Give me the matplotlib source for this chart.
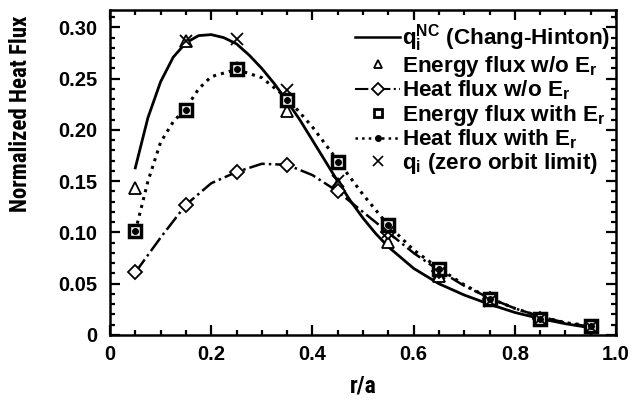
import numpy as np
import matplotlib
matplotlib.use("Agg")
import matplotlib.pyplot as plt
from matplotlib.ticker import MultipleLocator, FixedLocator, FixedFormatter

plt.rcParams['font.family'] = ['Liberation Sans', 'DejaVu Sans']
plt.rcParams['font.weight'] = 'bold'
plt.rcParams['mathtext.fontset'] = 'custom'
plt.rcParams['mathtext.rm'] = 'Liberation Sans:bold'
plt.rcParams['mathtext.it'] = 'Liberation Sans:bold'
plt.rcParams['mathtext.bf'] = 'Liberation Sans:bold'

# ---------- data ----------
r_pts = [0.05, 0.15, 0.25, 0.35, 0.45, 0.55, 0.65, 0.75, 0.85, 0.95]
energy_wo_er = [0.143, 0.287, 0.260, 0.218, 0.147, 0.091, 0.058, 0.036, 0.016, 0.008]
heat_wo_er = [0.061, 0.127, 0.159, 0.166, 0.140, 0.100, 0.062, 0.035, 0.016, 0.008]
energy_with_er = [0.101, 0.219, 0.259, 0.229, 0.169, 0.107, 0.064, 0.035, 0.016, 0.009]
heat_with_er = [0.101, 0.219, 0.259, 0.229, 0.169, 0.107, 0.064, 0.035, 0.016, 0.009]

r_zero = [0.15, 0.25, 0.35, 0.45, 0.55, 0.65, 0.75, 0.85, 0.95]
q_zero_orbit = [0.287, 0.289, 0.239, 0.150, 0.100, 0.060, 0.033, 0.016, 0.008]

# Chang-Hinton curve
r_ch = [0.05, 0.075, 0.10, 0.125, 0.15, 0.175, 0.20, 0.225, 0.25, 0.275, 0.30,
        0.325, 0.35, 0.375, 0.40, 0.425, 0.45, 0.475, 0.50, 0.525, 0.55, 0.60,
        0.65, 0.70, 0.75, 0.80, 0.85, 0.90, 0.95]
q_ch = [0.163, 0.212, 0.247, 0.271, 0.285, 0.292, 0.293, 0.290, 0.284, 0.273, 0.260,
        0.245, 0.228, 0.210, 0.190, 0.170, 0.150, 0.131, 0.114, 0.099, 0.086, 0.065,
        0.050, 0.039, 0.030, 0.022, 0.016, 0.011, 0.007]

# heat flux with E_r curve (dotted)
r_hw = [0.05, 0.075, 0.10, 0.125, 0.15, 0.175, 0.20, 0.25, 0.30, 0.35, 0.40, 0.45,
        0.50, 0.55, 0.60, 0.65, 0.70, 0.75, 0.80, 0.85, 0.90, 0.95]
q_hw = [0.101, 0.150, 0.188, 0.208, 0.221, 0.240, 0.252, 0.259, 0.251, 0.231, 0.203, 0.170,
        0.137, 0.107, 0.083, 0.065, 0.049, 0.036, 0.026, 0.018, 0.012, 0.009]

# heat flux w/o E_r curve (dash-dot)
r_ho = [0.05, 0.10, 0.15, 0.20, 0.25, 0.30, 0.35, 0.40, 0.45, 0.50, 0.55, 0.60,
        0.65, 0.70, 0.75, 0.80, 0.85, 0.90, 0.95]
q_ho = [0.061, 0.095, 0.127, 0.148, 0.159, 0.167, 0.166, 0.156, 0.140, 0.120, 0.100, 0.080,
        0.063, 0.048, 0.036, 0.026, 0.018, 0.012, 0.008]

y_ticks = [0, 0.05, 0.10, 0.15, 0.20, 0.25, 0.30]
y_tick_labels = ['0', '0.05', '0.10', '0.15', '0.20', '0.25', '0.30']
x_ticks = [0, 0.2, 0.4, 0.6, 0.8, 1.0]
x_tick_labels = ['0', '0.2', '0.4', '0.6', '0.8', '1.0']
# -----------------------------------------------

fig = plt.figure(figsize=(6.36, 4.05), dpi=100)
ax = fig.add_axes([110 / 636, 70 / 405, 506 / 636, 325 / 405])

# curves
ax.plot(r_ch, q_ch, '-', color='black', lw=2.0)
ax.plot(r_hw, q_hw, ':', color='black', lw=2.2)
ax.plot(r_ho, q_ho, '-.', color='black', lw=1.8)

# markers
ax.plot(r_pts, energy_wo_er, '^', ls='none', mfc='white', mec='black', ms=8, mew=1.3)
ax.plot(r_pts, heat_wo_er, 'D', ls='none', mfc='white', mec='black', ms=7, mew=1.3)
ax.plot(r_pts, energy_with_er, 's', ls='none', mfc='white', mec='black', ms=8, mew=2.5)
ax.plot(r_pts, heat_with_er, 'o', ls='none', color='black', ms=4)
ax.plot(r_zero, q_zero_orbit, 'x', ls='none', color='black', ms=9, mew=1.3)

# legend proxies
h1, = ax.plot([], [], '-', color='black', lw=1.8)
h2, = ax.plot([], [], '^', ls='none', mfc='white', mec='black', ms=6, mew=1.3)
h3, = ax.plot([], [], '-.', marker='D', color='black', mfc='white', mec='black', ms=6, mew=1.3, lw=1.5)
h4, = ax.plot([], [], 's', ls='none', mfc='white', mec='black', ms=6, mew=2.0)
h5, = ax.plot([], [], ':', marker='o', color='black', ms=4, lw=1.8)
h6, = ax.plot([], [], 'x', ls='none', color='black', ms=7, mew=1.2)

labels = [r'$\mathregular{q_i^{NC}}$ (Chang-Hinton)',
          r'Energy flux w/o $\mathregular{E_r}$',
          r'Heat flux w/o $\mathregular{E_r}$',
          r'Energy flux with $\mathregular{E_r}$',
          r'Heat flux with $\mathregular{E_r}$',
          r'$\mathregular{q_i}$ (zero orbit limit)']
ax.legend([h1, h2, h3, h4, h5, h6], labels, loc='upper left', frameon=False,
          fontsize=16.2, handlelength=2.0, handletextpad=0.1, labelspacing=0.0,
          borderaxespad=0.0, borderpad=0.0, numpoints=1,
          bbox_to_anchor=((355 - 110) / 506, (335 - 22) / 325))

ax.set_xlim(0, 1.0)
ax.set_ylim(0, 0.317)
ax.xaxis.set_major_locator(FixedLocator(x_ticks))
ax.xaxis.set_major_formatter(FixedFormatter(x_tick_labels))
ax.xaxis.set_minor_locator(MultipleLocator(0.05))
ax.yaxis.set_major_locator(FixedLocator(y_ticks))
ax.yaxis.set_major_formatter(FixedFormatter(y_tick_labels))
ax.yaxis.set_minor_locator(MultipleLocator(0.01))
ax.tick_params(which='both', direction='in', top=True, right=True, width=1.6)
ax.tick_params(which='major', length=7, labelsize=14.5)
ax.tick_params(axis='x', which='major', pad=7)
ax.tick_params(axis='y', which='major', pad=9)
ax.tick_params(which='minor', length=3.5)
for s in ax.spines.values():
    s.set_linewidth(1.8)

ax.set_xlabel('r/a', fontsize=17, fontweight='bold', family='Roboto Condensed', labelpad=8)
ax.set_ylabel('Normalized Heat Flux', fontsize=16.5, fontweight='bold', family='Roboto Condensed')
ax.yaxis.set_label_coords((32 - 110) / 506, (335 - 114) / 325)

fig.savefig('out.png', dpi=100)
